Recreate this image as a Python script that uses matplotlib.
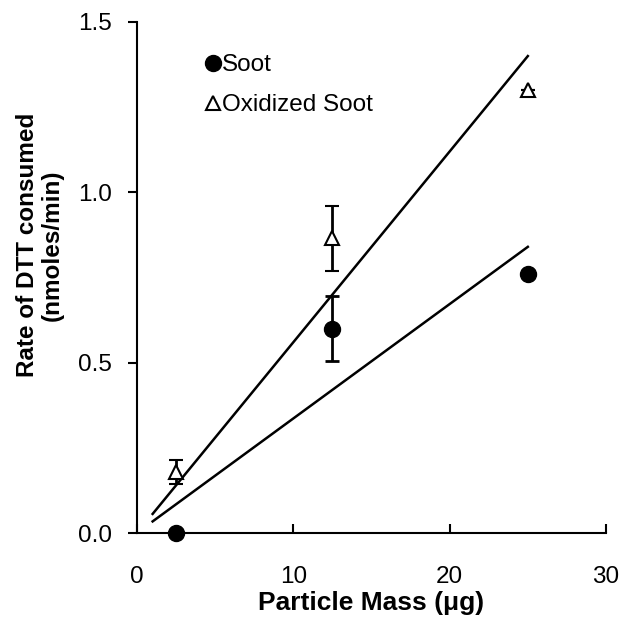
import matplotlib
matplotlib.use("Agg")
import matplotlib.pyplot as plt
from matplotlib.lines import Line2D

plt.rcParams['font.family'] = ['Liberation Sans', 'DejaVu Sans']

# Data
mass = [2.5, 12.5, 25]
soot = [0.0, 0.60, 0.76]
soot_err = [0.0, 0.095, 0.0]
ox_soot = [0.18, 0.865, 1.30]
ox_err = [0.035, 0.095, 0.0]

fit_x = [1, 25]
soot_fit = [0.034, 0.84]
ox_fit = [0.056, 1.40]

W, H = 622, 624
fig = plt.figure(figsize=(W / 100, H / 100), dpi=100)
ax = fig.add_axes([137 / W, (H - 533) / H, 469 / W, 511 / H])

ax.plot(fit_x, ox_fit, color='black', lw=1.8, zorder=2)
ax.plot(fit_x, soot_fit, color='black', lw=1.8, zorder=2)

ax.errorbar(mass, soot, yerr=soot_err, fmt='o', color='black', ms=11.5,
            ecolor='black', elinewidth=2, capsize=4.8, capthick=2, zorder=3,
            clip_on=False)
ax.errorbar(mass, ox_soot, yerr=ox_err, fmt='^', mfc='white', mec='black',
            mew=1.5, ms=10, ecolor='black', elinewidth=2, capsize=4.8,
            capthick=2, zorder=3, clip_on=False)

ax.set_xlim(0, 30)
ax.set_ylim(0, 1.5)
ax.set_xticks([0, 10, 20, 30])
ax.set_xticklabels(['0', '10', '20', '30'])
ax.set_yticks([0, 0.5, 1.0, 1.5])
ax.set_yticklabels(['0.0', '0.5', '1.0', '1.5'])

for s in ['top', 'right']:
    ax.spines[s].set_visible(False)
for s in ['left', 'bottom']:
    ax.spines[s].set_linewidth(1.5)

ax.tick_params(axis='x', direction='in', length=6.5, width=1.5, labelsize=17.5, pad=23.5)
ax.tick_params(axis='y', direction='out', length=6.5, width=1.5, labelsize=17.5, pad=11.5)

ax.set_xlabel('Particle Mass (\u03bcg)', fontsize=19, fontweight='bold', labelpad=2.5)
fig.text(40 / W, 1 - 245 / H, 'Rate of DTT consumed\n(nmoles/min)', rotation=90,
         ha='center', va='center', fontsize=17.5, fontweight='bold',
         linespacing=1.1, multialignment='center')

handles = [Line2D([], [], marker='o', ls='', color='black', ms=11.5),
           Line2D([], [], marker='^', ls='', mfc='white', mec='black', mew=1.5, ms=10)]
ax.legend(handles, ['Soot', 'Oxidized Soot'], loc='upper left',
          bbox_to_anchor=((207 - 137) / 469, (533 - 54) / 511), frameon=False,
          fontsize=17.5, borderpad=0, borderaxespad=0,
          handlelength=0.5, handletextpad=0.12, labelspacing=0.74)

fig.savefig('out.png', dpi=100)
